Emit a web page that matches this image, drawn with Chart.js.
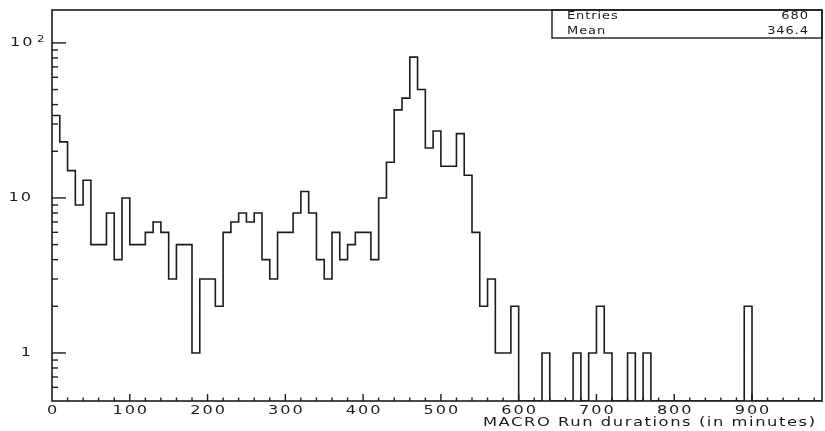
<!DOCTYPE html>
<html>
<head>
<meta charset="utf-8">
<script src="https://cdn.jsdelivr.net/npm/chart.js@4.4.0/dist/chart.umd.min.js"></script>
<style>
  html, body { margin:0; padding:0; background:#fff; }
  #plot { display:block; }
</style>
</head>
<body>
<canvas id="plot" width="825" height="431"></canvas>
<script>
// MACRO run durations histogram, 10 minute bins starting at 0
const binWidth = 10;
const counts = [
  34,23,15,9,13,5,5,8,4,10,      // 0-100
  5,5,6,7,6,3,5,5,1,3,           // 100-200
  3,2,6,7,8,7,8,4,3,6,           // 200-300
  6,8,11,8,4,3,6,4,5,6,          // 300-400
  6,4,10,17,37,44,81,50,21,27,   // 400-500
  16,16,26,14,6,2,3,1,1,2,       // 500-600
  0,0,0,1,0,0,0,1,0,1,           // 600-700
  2,1,0,0,1,0,1,0,0,0,           // 700-800
  0,0,0,0,0,0,0,0,0,2,           // 800-900
  0,0,0,0,0,0,0,0,0              // 900-990
];
const xTicks = [0,100,200,300,400,500,600,700,800,900];
const xMinorStep = 20;
const yTicks = [1,10,100];
const yTickLabels = ['1','10','10'];
const yTickSup = ['','','2'];
const yMinor = [0.6,0.7,0.8,0.9,2,3,4,5,6,7,8,9,20,30,40,50,60,70,80,90];
const statNames = ['Entries','Mean'];
const statValues = ['680','346.4'];
const xTitle = 'MACRO Run durations (in minutes)';

const xMin = 0, xMax = 990;
const yMin = 0.49, yMax = 163;
const ink = '#1c1c1c';
const font = '"DejaVu Sans", sans-serif';

// stepped outline: one point per bin left edge, empty bins dropped to the axis floor
const pts = counts.map((c,i)=>({ x: i*binWidth, y: c>0 ? c : yMin }));
pts.push({ x: counts.length*binWidth, y: yMin });

function seg(ctx,x1,y1,x2,y2){ ctx.beginPath(); ctx.moveTo(x1,y1); ctx.lineTo(x2,y2); ctx.stroke(); }

// wide plotter-style text: stretch horizontally
function wideText(ctx, txt, x, y, align, sx, sp){
  ctx.save();
  ctx.letterSpacing = sp+'px';
  ctx.textAlign = 'left';
  ctx.textBaseline = 'middle';
  const w = (ctx.measureText(txt).width - sp) * sx;
  let left = x;
  if(align==='center') left = x - w/2;
  else if(align==='right') left = x - w;
  ctx.translate(left, y);
  ctx.scale(sx, 1);
  ctx.fillText(txt, 0, 0);
  ctx.restore();
  return w;
}

const axesPlugin = {
  id:'hbookAxes',
  afterDraw(chart){
    const ctx = chart.ctx; const a = chart.chartArea;
    const xs = chart.scales.x, ys = chart.scales.y;
    ctx.save();
    ctx.strokeStyle = ink; ctx.fillStyle = ink; ctx.lineWidth = 1.6;
    ctx.strokeRect(a.left, a.top, a.right-a.left, a.bottom-a.top);

    // y ticks (inside)
    ctx.lineWidth = 1.4;
    yTicks.forEach(v=>{ const p = ys.getPixelForValue(v); seg(ctx, a.left, p, a.left+14, p); });
    yMinor.forEach(v=>{ const p = ys.getPixelForValue(v); if(p>a.top && p<a.bottom) seg(ctx, a.left, p, a.left+6, p); });

    // x ticks (inside)
    for(let v=xMin+xMinorStep; v<xMax; v+=xMinorStep){
      const p = xs.getPixelForValue(v);
      seg(ctx, p, a.bottom, p, a.bottom-(v%100===0?7:3.5));
    }

    // tick labels
    ctx.font = '500 11.5px '+font;
    xTicks.forEach(v=>{ wideText(ctx, String(v), xs.getPixelForValue(v), a.bottom+10, 'center', 1.4, 1.4); });

    yTicks.forEach((v,i)=>{
      const p = ys.getPixelForValue(v);
      ctx.font = '500 11.5px '+font;
      if(yTickSup[i]){
        wideText(ctx, yTickLabels[i], 10, p, 'left', 1.4, 1.4);
        ctx.font = '500 9px '+font;
        wideText(ctx, yTickSup[i], 37, p-3, 'left', 1.3, 0);
      } else {
        wideText(ctx, yTickLabels[i], 31, p, 'right', 1.4, 1.4);
      }
    });

    ctx.font = '500 11.5px '+font;
    wideText(ctx, xTitle, 815, a.bottom+22, 'right', 1.42, 1.1);

    // stats box
    const bx = 552, by = a.top, bb = 38;
    ctx.lineWidth = 1.4;
    ctx.strokeRect(bx, by, a.right-bx, bb-by);
    ctx.font = '500 10px '+font;
    statNames.forEach((n,i)=>{ wideText(ctx, n, 567, 16.5+i*15, 'left', 1.3, 0.7); });
    statValues.forEach((n,i)=>{ wideText(ctx, n, 808, 16.5+i*15, 'right', 1.3, 0.7); });
    ctx.restore();
  }
};

new Chart(document.getElementById('plot'), {
  type:'line',
  data:{ datasets:[{
    data: pts,
    stepped: true,
    borderColor: ink,
    borderWidth: 1.6,
    pointRadius: 0,
    fill: false,
    tension: 0
  }]},
  options:{
    responsive:false,
    animation:false,
    devicePixelRatio:1,
    layout:{ padding:{ left:52, right:3, top:10, bottom:30 } },
    plugins:{ legend:{display:false}, tooltip:{enabled:false} },
    scales:{
      x:{ type:'linear', min:xMin, max:xMax, display:false },
      y:{ type:'logarithmic', min:yMin, max:yMax, display:false }
    }
  },
  plugins:[axesPlugin]
});
</script>
</body>
</html>
